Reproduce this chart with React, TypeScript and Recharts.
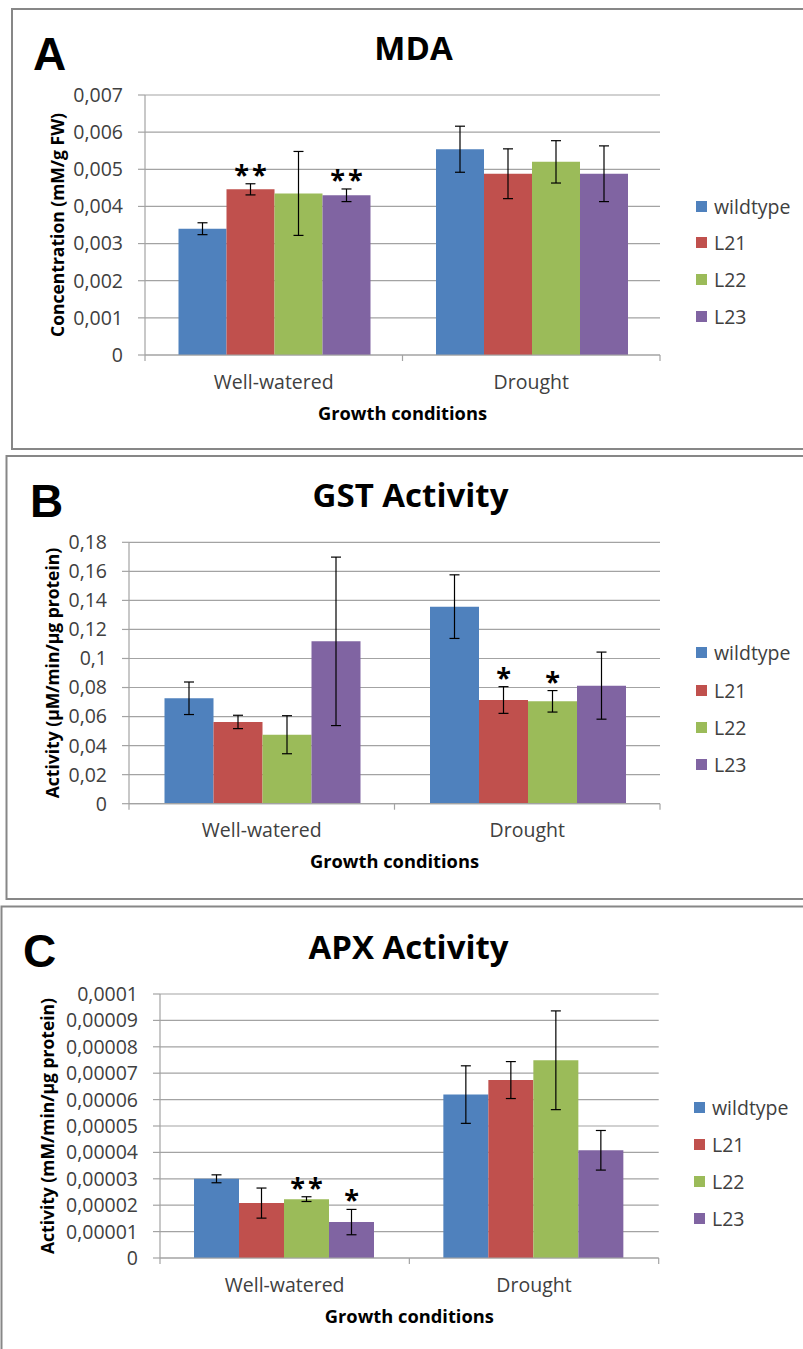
import React from 'react';
import { BarChart, Bar, XAxis, YAxis, CartesianGrid, Legend, ErrorBar, LabelList, Label } from 'recharts';

const CONDITIONS = ['Well-watered', 'Drought'];
const LINES = ['wildtype', 'L21', 'L22', 'L23'];
const COLORS = ['#4F81BD', '#C0504D', '#9BBB59', '#8064A2'];

// MDA concentration (mM/g FW), values in LINES order
const mdaWellWatered = [0.0034, 0.00446, 0.00435, 0.0043];
const mdaDrought = [0.00554, 0.00488, 0.0052, 0.00488];
const mdaErrWellWatered = [0.00016, 0.00015, 0.00113, 0.00017];
const mdaErrDrought = [0.00062, 0.00067, 0.00057, 0.00075];
const mdaSigWellWatered = ['', '**', '', '**'];
const mdaSigDrought = ['', '', '', ''];
const mdaTicks = [0, 0.001, 0.002, 0.003, 0.004, 0.005, 0.006, 0.007];

// GST activity (µM/min/µg protein)
const gstWellWatered = [0.0726, 0.0563, 0.0475, 0.1118];
const gstDrought = [0.1357, 0.0714, 0.0705, 0.0813];
const gstErrWellWatered = [0.0112, 0.0046, 0.0131, 0.058];
const gstErrDrought = [0.0219, 0.0092, 0.0074, 0.0231];
const gstSigWellWatered = ['', '', '', ''];
const gstSigDrought = ['', '*', '*', ''];
const gstTicks = [0, 0.02, 0.04, 0.06, 0.08, 0.1, 0.12, 0.14, 0.16, 0.18];

// APX activity (mM/min/µg protein)
const apxWellWatered = [0.00003, 0.0000208, 0.0000223, 0.0000136];
const apxDrought = [0.0000619, 0.0000674, 0.0000749, 0.0000408];
const apxErrWellWatered = [0.0000015, 0.0000057, 0.0000009, 0.0000048];
const apxErrDrought = [0.0000109, 0.000007, 0.0000187, 0.0000075];
const apxSigWellWatered = ['', '', '**', '*'];
const apxSigDrought = ['', '', '', ''];
const apxTicks = [0, 0.00001, 0.00002, 0.00003, 0.00004, 0.00005, 0.00006, 0.00007, 0.00008, 0.00009, 0.0001];

const FONT = '"Open Sans", sans-serif';
const GRID = '#a3a3a3';
const TEXT = '#404040';

type Row = Record<string, string | number>;

function buildRows(means: number[][], errs: number[][], sigs: string[][]): Row[] {
  return CONDITIONS.map((name, c) => {
    const row: Row = { name };
    LINES.forEach((line, i) => {
      row[line] = means[c][i];
      row[`${line}_err`] = errs[c][i];
      row[`${line}_sig`] = sigs[c][i];
    });
    return row;
  });
}

const mdaRows = buildRows(
  [mdaWellWatered, mdaDrought],
  [mdaErrWellWatered, mdaErrDrought],
  [mdaSigWellWatered, mdaSigDrought]
);
const gstRows = buildRows(
  [gstWellWatered, gstDrought],
  [gstErrWellWatered, gstErrDrought],
  [gstSigWellWatered, gstSigDrought]
);
const apxRows = buildRows(
  [apxWellWatered, apxDrought],
  [apxErrWellWatered, apxErrDrought],
  [apxSigWellWatered, apxSigDrought]
);

// decimal comma, as on the axes
const fmt = (v: number) => String(v).replace('.', ',');

interface PanelProps {
  top: number;
  height: number;
  plotTop: number;
  plotBottom: number;
  axisX: number;
  plotRight: number;
  rows: Row[];
  ticks: number[];
  yLabel: string;
  yLabelX: number;
  catGap: number;
  legendX: number;
  legendTop: number;
  legendRow: number;
}

function Panel(p: PanelProps) {
  const yMax = p.ticks[p.ticks.length - 1];
  const plotH = p.plotBottom - p.plotTop;
  const band = (p.plotRight - p.axisX) / CONDITIONS.length;

  // category label plus Excel-style tick marks on the category boundaries
  const CategoryTick = (props: any) => {
    const { x, y, payload } = props;
    const left = x - band / 2;
    const right = x + band / 2;
    return (
      <g>
        <line x1={left} x2={left} y1={y} y2={y + 6} stroke={GRID} strokeWidth={1.2} />
        {payload.index === CONDITIONS.length - 1 && (
          <line x1={right} x2={right} y1={y} y2={y + 6} stroke={GRID} strokeWidth={1.2} />
        )}
        <text x={x} y={y + 33.5} textAnchor="middle" fill={TEXT} fontSize={19.5} fontFamily={FONT}>
          {payload.value}
        </text>
      </g>
    );
  };

  // significance stars sit just above the error bar cap
  const sigLabel = (line: string) => (props: any) => {
    const { x, y, width, value, index } = props;
    if (!value) return null;
    const err = Number(p.rows[index][`${line}_err`]);
    const capY = Number(y) - (err * plotH) / yMax;
    return (
      <text
        x={Number(x) + Number(width) / 2 + 1.5}
        y={capY}
        textAnchor="middle"
        fontFamily={FONT}
        fontWeight={700}
        fontSize={27}
        letterSpacing={3}
        fill="#000"
      >
        {value}
      </text>
    );
  };

  // keep the series order (wildtype first) instead of the alphabetical default
  const renderLegend = (props: any) => {
    const items = [...(props.payload || [])].sort(
      (a: any, b: any) => LINES.indexOf(a.value) - LINES.indexOf(b.value)
    );
    return (
      <div style={{ fontFamily: FONT, fontSize: 19.5, color: TEXT }}>
        {items.map((entry: any) => (
          <div key={entry.value} style={{ display: 'flex', alignItems: 'center', height: p.legendRow }}>
            <span style={{ width: 11, height: 11, background: entry.color, marginRight: 7, display: 'inline-block' }} />
            {entry.value}
          </div>
        ))}
      </div>
    );
  };

  return (
    <div style={{ position: 'absolute', left: 0, top: p.top }}>
      <BarChart
        width={803}
        height={p.height}
        data={p.rows}
        margin={{ top: p.plotTop, right: 803 - p.plotRight, bottom: 0, left: 0 }}
        barCategoryGap={p.catGap}
        barGap={0}
      >
        <CartesianGrid vertical={false} stroke={GRID} strokeWidth={1.2} />
        <XAxis
          dataKey="name"
          height={p.height - p.plotBottom}
          axisLine={{ stroke: GRID, strokeWidth: 1.2 }}
          tickLine={false}
          tickSize={0}
          tickMargin={0}
          interval={0}
          tick={<CategoryTick />}
        >
          <Label
            content={(lp: any) => {
              const vb = lp.viewBox || {};
              return (
                <text
                  x={vb.x + vb.width / 2}
                  y={p.plotBottom + 64.5}
                  textAnchor="middle"
                  fontFamily={FONT}
                  fontWeight={700}
                  fontSize={18.3}
                  fill="#000"
                >
                  Growth conditions
                </text>
              );
            }}
          />
        </XAxis>
        <YAxis
          width={p.axisX}
          domain={[0, yMax]}
          ticks={p.ticks}
          interval={0}
          tickFormatter={fmt}
          axisLine={{ stroke: GRID, strokeWidth: 1.2 }}
          tickLine={{ stroke: GRID, strokeWidth: 1.2 }}
          tickSize={7}
          tickMargin={15}
          tick={{ fill: TEXT, fontSize: 19.5, fontFamily: FONT }}
        >
          <Label
            content={() => {
              const cy = (p.plotTop + p.plotBottom) / 2;
              return (
                <text
                  x={p.yLabelX}
                  y={cy}
                  transform={`rotate(-90 ${p.yLabelX} ${cy})`}
                  textAnchor="middle"
                  dominantBaseline="central"
                  fontFamily={FONT}
                  fontWeight={700}
                  fontSize={17.5}
                  fill="#000"
                >
                  {p.yLabel}
                </text>
              );
            }}
          />
        </YAxis>
        <Legend
          layout="vertical"
          align="center"
          verticalAlign="middle"
          wrapperStyle={{ left: p.legendX, top: p.legendTop, width: 120, height: 'auto' }}
          content={renderLegend}
        />
        {LINES.map((line, i) => (
          <Bar key={line} dataKey={line} name={line} fill={COLORS[i]} isAnimationActive={false}>
            <ErrorBar dataKey={`${line}_err`} width={5} stroke="#000" strokeWidth={1.2} />
            <LabelList dataKey={`${line}_sig`} content={sigLabel(line)} />
          </Bar>
        ))}
      </BarChart>
    </div>
  );
}

export default function App() {
  return (
    <div
      style={{
        position: 'absolute',
        left: 0,
        top: 0,
        width: 803,
        height: 1349,
        overflow: 'hidden',
        background: '#fff',
      }}
    >
      <svg width={803} height={1349} style={{ position: 'absolute', left: 0, top: 0 }}>
        <g fill="none" stroke="#878787" strokeWidth={2}>
          <rect x={12} y={9} width={900} height={440} />
          <rect x={6.5} y={456} width={900} height={443} />
          <rect x={1.5} y={906.5} width={900} height={500} />
        </g>
        <g fontFamily='"Liberation Sans", Arial, sans-serif' fontWeight={700} fontSize={46} fill="#000">
          <text x={33} y={70}>A</text>
          <text x={30} y={517}>B</text>
          <text x={23} y={967}>C</text>
        </g>
        <g fontFamily={FONT} fontWeight={700} fontSize={33} fill="#000" textAnchor="middle">
          <text x={413.5} y={60}>MDA</text>
          <text x={410.5} y={506.5}>GST Activity</text>
          <text x={408.5} y={959}>APX Activity</text>
        </g>
      </svg>
      <Panel
        top={0}
        height={449}
        plotTop={95}
        plotBottom={355}
        axisX={145}
        plotRight={660}
        rows={mdaRows}
        ticks={mdaTicks}
        yLabel="Concentration (mM/g FW)"
        yLabelX={57}
        catGap={33.5}
        legendX={696}
        legendTop={187.7}
        legendRow={36.7}
      />
      <Panel
        top={450}
        height={449}
        plotTop={92.3}
        plotBottom={353.7}
        axisX={129}
        plotRight={660}
        rows={gstRows}
        ticks={gstTicks}
        yLabel="Activity (µM/min/µg protein)"
        yLabelX={52}
        catGap={35.5}
        legendX={696}
        legendTop={184.3}
        legendRow={37.3}
      />
      <Panel
        top={900}
        height={449}
        plotTop={94}
        plotBottom={358}
        axisX={160}
        plotRight={658.7}
        rows={apxRows}
        ticks={apxTicks}
        yLabel="Activity (mM/min/µg protein)"
        yLabelX={47}
        catGap={34}
        legendX={694}
        legendTop={188.5}
        legendRow={37}
      />
    </div>
  );
}
